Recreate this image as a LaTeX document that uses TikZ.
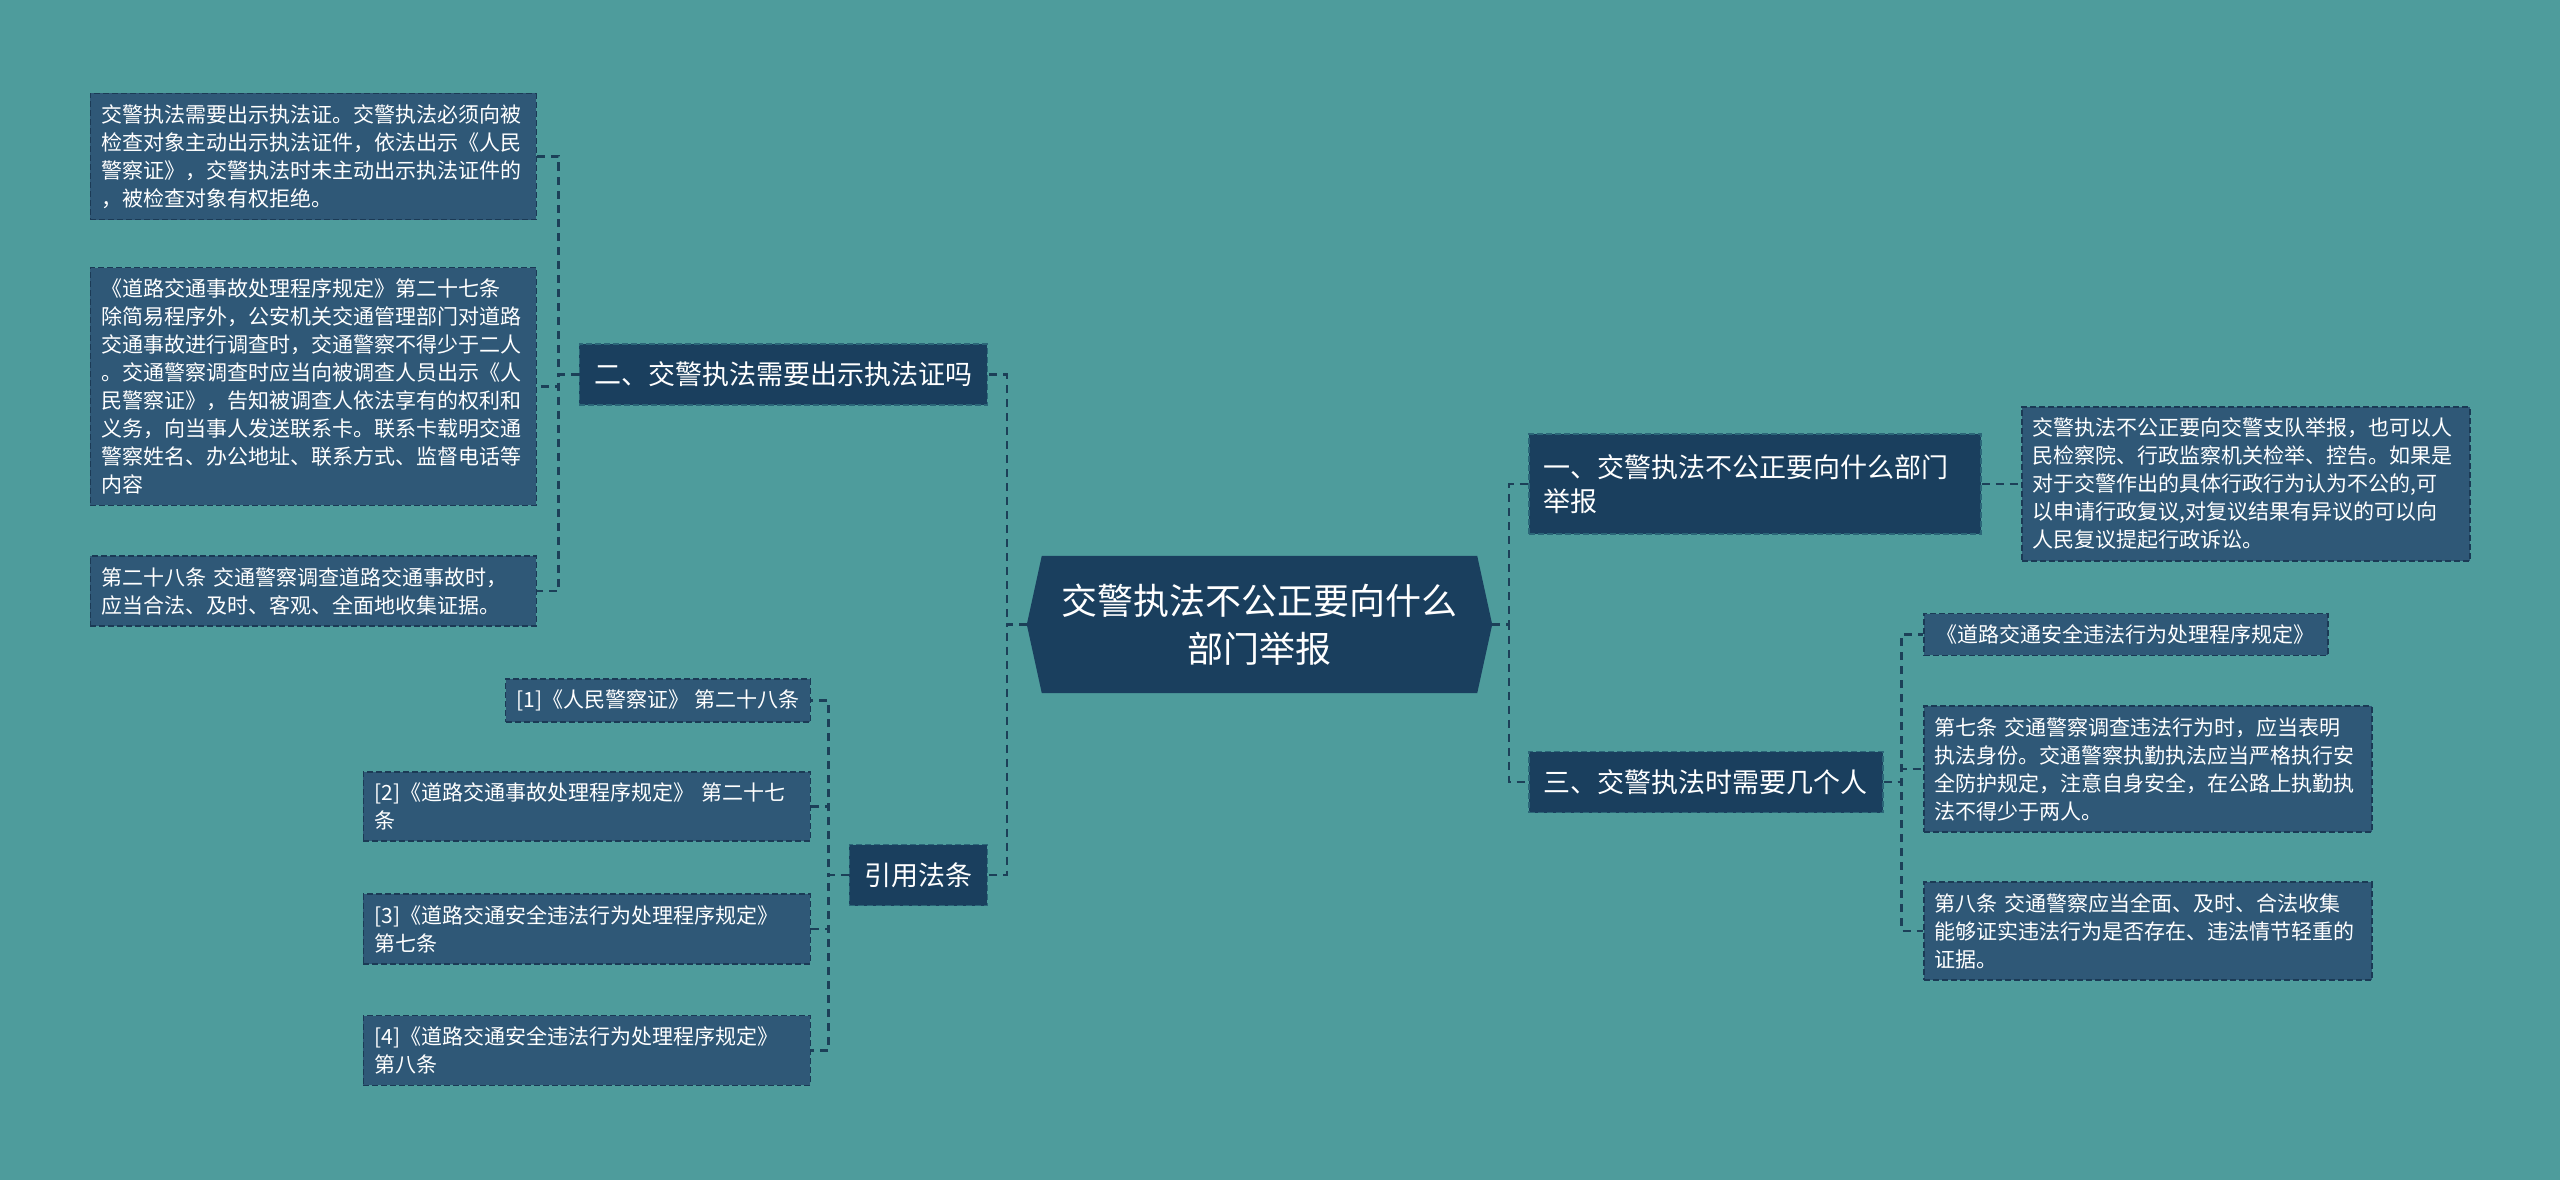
\documentclass[tikz,border=0pt]{standalone}
\usepackage{fontspec}
\setmainfont{Noto Sans CJK SC}
\usepackage{xcolor}
\usepackage{tikz}
\usetikzlibrary{positioning,calc,backgrounds}
\definecolor{bgc}{HTML}{4E9C9C}
\definecolor{navy}{HTML}{1A3F5E}
\definecolor{leafc}{HTML}{2F5877}
\definecolor{lnc}{HTML}{1C4058}
\definecolor{edgec}{HTML}{1B3A55}
\definecolor{bredge}{HTML}{2B6678}

\begin{document}
\begin{tikzpicture}[x=1pt, y=-1pt, text=white, font=\fontsize{21}{28}\selectfont,
  ln/.style={draw=lnc, line width=2.3pt, dash pattern=on 8pt off 6pt},
  lf/.style={draw=edgec, line width=1.5pt, dash pattern=on 6pt off 3pt, fill=leafc, align=left, inner xsep=11pt, inner ysep=11pt},
  br/.style={lf, draw=bredge, fill=navy, font=\fontsize{27}{34}\selectfont, inner xsep=15pt, inner ysep=14pt, minimum height=61pt}]
  \node[font=\fontsize{36}{48}\selectfont, align=center, text width=410pt, minimum width=435pt, minimum height=137pt, inner sep=0pt] (c) at (1259.5,624.5) {交警执法不公正要向什么\\部门举报};
  \coordinate (cl) at ($(c.west)+(-15,0)$); \coordinate (cr) at ($(c.east)+(15,0)$);
  \begin{scope}[on background layer]
    \fill[bgc] (0,0) rectangle (2560,1180);
    \fill[navy] (cl) -- (c.north west) -- (c.north east) -- (cr) -- (c.south east) -- (c.south west) -- cycle;
  \end{scope}
  \node[br, anchor=east] (b2) at (988,374.5) {二、交警执法需要出示执法证吗};
  \node[br, anchor=east] (b4) at (988,875) {引用法条};
  \node[br, anchor=west, text width=422pt, minimum height=100pt] (b1) at (1528,484) {一、交警执法不公正要向什么部门\\举报};
  \node[br, anchor=west] (b3) at (1528,782) {三、交警执法时需要几个人};
  \node[lf, anchor=east, text width=424pt] (l1) at (537,156.5) {交警执法需要出示执法证。交警执法必须向被\\检查对象主动出示执法证件，依法出示《人民\\警察证》，交警执法时未主动出示执法证件的\\，被检查对象有权拒绝。};
  \node[lf, anchor=east, text width=424pt] (l2) at (537,386.5) {《道路交通事故处理程序规定》第二十七条\\除简易程序外，公安机关交通管理部门对道路\\交通事故进行调查时，交通警察不得少于二人\\。交通警察调查时应当向被调查人员出示《人\\民警察证》，告知被调查人依法享有的权利和\\义务，向当事人发送联系卡。联系卡载明交通\\警察姓名、办公地址、联系方式、监督电话等\\内容};
  \node[lf, anchor=east, text width=424pt] (l3) at (537,591) {第二十八条 交通警察调查道路交通事故时，\\应当合法、及时、客观、全面地收集证据。};
  \node[lf, anchor=east] (r1) at (811,700.5) {[1]《人民警察证》 第二十八条};
  \node[lf, anchor=east, text width=425pt] (r2) at (811,806.5) {[2]《道路交通事故处理程序规定》 第二十七\\条};
  \node[lf, anchor=east, text width=425pt] (r3) at (811,929) {[3]《道路交通安全违法行为处理程序规定》\\第七条};
  \node[lf, anchor=east, text width=425pt] (r4) at (811,1050.5) {[4]《道路交通安全违法行为处理程序规定》\\第八条};
  \node[lf, anchor=west, text width=426pt] (d1) at (2021,484) {交警执法不公正要向交警支队举报，也可以人\\民检察院、行政监察机关检举、控告。如果是\\对于交警作出的具体行政行为认为不公的,可\\以申请行政复议,对复议结果有异议的可以向\\人民复议提起行政诉讼。};
  \node[lf, anchor=west, inner xsep=13pt] (s1) at (1923,634.5) {《道路交通安全违法行为处理程序规定》};
  \node[lf, anchor=west, text width=426pt] (s2) at (1923,769) {第七条 交通警察调查违法行为时，应当表明\\执法身份。交通警察执勤执法应当严格执行安\\全防护规定，注意自身安全，在公路上执勤执\\法不得少于两人。};
  \node[lf, anchor=west, text width=426pt] (s3) at (1923,931) {第八条 交通警察应当全面、及时、合法收集\\能够证实违法行为是否存在、违法情节轻重的\\证据。};
  \foreach \v in {b2,b4} \draw[ln] (cl) -- ++(-20,0) |- (\v.east);
  \foreach \v in {b1,b3} \draw[ln] (cr) -- ++(17,0) |- (\v.west);
  \foreach \v in {l1,l2,l3} \draw[ln] (b2.west) -- ++(-20,0) |- (\v.east);
  \foreach \v in {r1,r2,r3,r4} \draw[ln] (b4.west) -- ++(-20,0) |- (\v.east);
  \foreach \v in {s1,s2,s3} \draw[ln] (b3.east) -- ++(18,0) |- (\v.west);
  \draw[ln] (b1.east) -- (d1.west);
\end{tikzpicture}
\end{document}
